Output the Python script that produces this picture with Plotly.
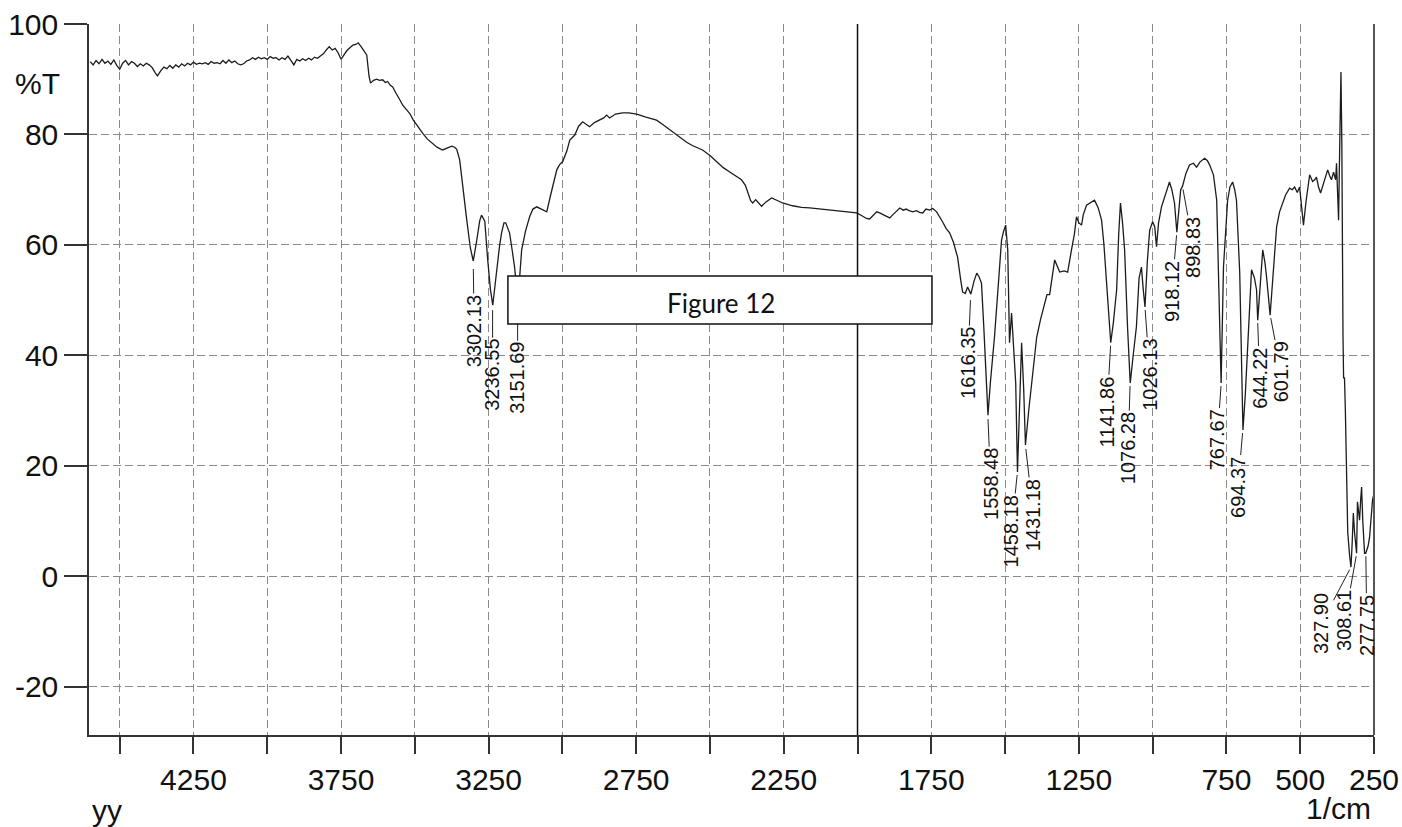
import plotly.graph_objects as go

# ---------------- data ----------------
wavenumber = [
    4600, 4590, 4580, 4570, 4560, 4550, 4540, 4530, 4520, 4510, 4500, 4490, 4480, 4470, 4460,
    4450, 4440, 4430, 4420, 4410, 4400, 4390, 4380, 4372, 4360, 4350, 4340, 4330, 4320, 4310,
    4300, 4290, 4280, 4270, 4260, 4250, 4240, 4230, 4220, 4210, 4200, 4190, 4180, 4170, 4160,
    4150, 4140, 4130, 4120, 4110, 4100, 4090, 4080, 4070, 4060, 4050, 4040, 4030, 4020, 4010,
    4000, 3990, 3980, 3970, 3960, 3950, 3940, 3930, 3920, 3910, 3900, 3890, 3880, 3870, 3860,
    3850, 3840, 3830, 3820, 3810, 3800, 3790, 3780, 3770, 3760, 3750, 3740, 3730, 3720, 3710,
    3700, 3692, 3682, 3672, 3663, 3655,
    3650, 3640, 3629, 3620, 3609, 3600, 3592, 3583, 3575, 3565, 3558, 3550, 3541, 3528, 3517,
    3505, 3494, 3484, 3473, 3458, 3440, 3425, 3406, 3390, 3375, 3365, 3358, 3348, 3338, 3324,
    3312, 3302, 3290, 3280, 3274, 3263, 3253, 3244, 3236, 3228, 3223, 3213, 3206, 3198, 3192,
    3185, 3179, 3170, 3162, 3152, 3145, 3138, 3125, 3111, 3100, 3087, 3070, 3053, 3040, 3030,
    3019, 3010, 2999, 2985, 2975, 2958, 2945, 2931, 2920, 2908, 2890, 2874, 2860, 2850, 2840,
    2820, 2796, 2775, 2748, 2720, 2700, 2681, 2660, 2640, 2626, 2600, 2579, 2560, 2540, 2525,
    2500, 2477, 2455, 2433, 2410, 2393, 2380, 2372, 2362, 2355, 2345, 2335, 2325, 2310, 2291,
    2270, 2254, 2220, 2190, 2162, 2100, 2050, 2003, 1985, 1970, 1959, 1945, 1935, 1925, 1910,
    1900, 1891, 1880, 1870, 1857, 1845, 1835, 1825, 1813, 1800, 1790, 1779, 1768, 1756, 1745,
    1732, 1720, 1712, 1700, 1688, 1675, 1661, 1650, 1644, 1635, 1627, 1620, 1616, 1605, 1596,
    1588, 1580, 1572, 1565, 1558, 1550, 1536, 1524, 1512, 1505, 1498, 1491, 1485, 1478, 1470,
    1464, 1458, 1451, 1444, 1437, 1431, 1420, 1410, 1400, 1393, 1380, 1366, 1358, 1349, 1340,
    1332, 1322, 1315, 1300, 1288, 1275, 1265, 1258, 1250, 1241, 1235, 1224, 1210, 1197, 1185,
    1173, 1165, 1156, 1148, 1142, 1133, 1122, 1115, 1109, 1102, 1095, 1085, 1076, 1065, 1055,
    1046, 1038, 1032, 1026, 1018, 1010, 1000, 993, 987, 980, 970, 955, 943, 935, 926,
    918, 912, 905, 899, 887, 875, 862, 851, 840, 824, 815, 807, 794, 783, 777,
    768, 760, 746, 738, 729, 722, 716, 705, 699, 694, 686, 678, 665, 655, 648,
    644, 636, 627, 620, 614, 602, 592, 580, 570, 560, 550, 536, 527, 519, 510,
    502, 495, 489, 480, 468, 458, 451, 445, 438, 431, 420, 407, 400, 394, 387,
    380, 377, 372, 370, 368, 365, 362, 359, 357, 355, 353, 350, 347, 343, 339,
    333, 328, 324, 320, 316, 313, 309, 306, 302, 299, 295, 292, 288, 282, 278,
    270, 265, 258, 255, 250,
]

transmittance = [
    93.2, 92.6, 93.4, 92.8, 93.6, 92.9, 93.3, 92.7, 93.5, 92.5, 91.8, 92.9, 93.4, 92.6, 93.2,
    92.9, 92.3, 92.8, 92.4, 92.9, 92.6, 92.1, 91.2, 90.6, 91.6, 92.2, 91.9, 92.5, 92.0, 92.6,
    92.2, 92.8, 92.4, 92.9, 92.6, 93.1, 92.7, 92.9, 92.8, 93.0, 92.7, 93.2, 92.9, 93.0, 92.8,
    93.4, 92.9, 93.5, 93.0, 93.3, 92.8, 92.6, 92.8, 93.3, 93.5, 93.9, 93.6, 94.0, 93.7, 93.9,
    93.6, 94.1, 93.8, 93.9, 93.5, 93.9, 93.6, 94.2, 93.4, 92.6, 93.6, 93.3, 93.7, 93.4, 93.8,
    93.5, 94.0, 93.8, 94.2, 94.6, 95.3, 95.9, 95.3, 95.6, 94.8, 93.6, 94.4, 95.2, 95.7, 96.2,
    96.3, 96.6, 95.9, 95.2, 94.4, 90.5,
    89.3, 89.8, 90.0, 89.8, 89.9, 89.4, 89.6, 88.9, 88.6, 87.6, 86.8, 86.2, 85.3, 84.5, 83.8,
    82.6, 81.7, 80.9, 80.2, 79.2, 78.4, 77.7, 77.2, 77.5, 77.9, 77.7, 77.3, 75.4, 70.6, 64.5,
    59.5, 57.1, 60.9, 64.4, 65.4, 64.3, 57.3, 52.0, 49.1, 53.0, 54.9, 59.8, 62.2, 64.0, 64.0,
    62.8, 62.2, 59.0, 56.0, 50.5, 54.0, 59.1, 62.5, 65.1, 66.5, 66.9, 66.5, 66.0, 69.0, 71.5,
    73.6, 74.5, 75.1, 77.0, 79.0, 79.9, 81.5, 82.3, 81.8, 81.4, 82.2, 82.6, 83.0, 83.5, 83.0,
    83.7, 83.9, 83.9, 83.7, 83.2, 82.9, 82.6, 81.8, 81.0, 80.5, 79.5, 78.6, 78.0, 77.5, 77.2,
    76.2, 75.0, 74.0, 73.2, 72.4, 71.8, 70.8, 69.4, 68.0, 67.6, 68.2, 67.6, 67.0, 67.8, 68.5,
    68.0, 67.6, 67.1, 66.8, 66.7, 66.3, 66.1, 65.8, 65.3, 64.8, 64.7, 65.4, 66.0, 65.8, 65.4,
    65.1, 64.9, 65.5, 66.1, 66.7, 66.3, 66.5, 66.2, 66.0, 66.2, 65.9, 65.8, 66.5, 66.3, 66.6,
    66.0, 65.0, 64.2, 63.0, 62.2, 60.5, 57.8, 53.5, 51.5, 51.2, 52.4, 51.6, 51.1, 53.5, 54.9,
    54.2, 53.1, 45.0, 36.0, 29.2, 35.0, 43.3, 52.0, 60.9, 62.5, 63.6, 59.1, 42.3, 47.7, 40.0,
    35.0, 18.9, 30.0, 42.3, 34.0, 23.8, 30.0, 35.0, 40.0, 43.3, 46.5, 49.5, 51.0, 51.0, 54.0,
    57.3, 56.0, 55.1, 55.3, 55.1, 59.1, 62.0, 65.1, 64.0, 63.6, 65.5, 67.2, 67.6, 68.1, 66.8,
    64.5, 60.0, 53.1, 46.0, 42.3, 46.0, 51.9, 62.0, 67.6, 64.0, 59.1, 45.0, 35.0, 40.5, 45.2,
    54.0, 56.0, 52.0, 48.8, 57.0, 62.7, 64.2, 63.3, 59.7, 64.0, 66.9, 69.5, 71.4, 70.0, 67.6,
    62.3, 65.5, 70.0, 70.6, 73.0, 74.5, 74.8, 74.1, 75.0, 75.7, 75.3, 74.5, 72.7, 68.1, 53.1,
    35.0, 56.0, 68.1, 70.5, 71.4, 70.0, 68.1, 55.0, 41.0, 26.5, 33.0, 41.0, 55.5, 54.0, 51.9,
    46.4, 53.0, 59.1, 57.0, 54.2, 47.3, 55.0, 63.3, 66.0, 67.6, 69.0, 70.3, 70.0, 70.5, 69.5,
    70.5, 67.0, 63.6, 68.0, 72.7, 71.5, 71.8, 72.3, 70.5, 69.4, 71.5, 73.6, 72.5, 71.8, 73.2,
    71.8, 74.8, 66.0, 64.5, 71.8, 79.0, 91.3, 78.5, 52.4, 43.3, 35.9, 36.0, 30.0, 16.0, 8.0,
    4.0, 1.7, 6.0, 11.5, 8.0, 6.0, 4.2, 13.5, 11.0, 10.2, 14.0, 16.2, 10.0, 4.2, 4.2,
    5.5, 7.1, 11.0, 13.8, 15.0,
]

peak_labels = ["3302.13", "3236.55", "3151.69", "1616.35", "1558.48", "1458.18", "1431.18",
               "1141.86", "1076.28", "1026.13", "918.12", "898.83", "767.67", "694.37",
               "644.22", "601.79", "327.90", "308.61", "277.75"]
peak_wn = [3302.13, 3236.55, 3151.69, 1616.35, 1558.48, 1458.18, 1431.18,
           1141.86, 1076.28, 1026.13, 918.12, 898.83, 767.67, 694.37,
           644.22, 601.79, 327.90, 308.61, 277.75]
peak_T = [57.1, 49.1, 50.0, 51.1, 29.2, 18.9, 23.8,
          42.3, 35.0, 48.8, 62.3, 70.6, 35.0, 26.5,
          46.4, 47.3, 1.7, 4.2, 4.2]

x_tick_vals = [4250, 3750, 3250, 2750, 2250, 1750, 1250, 750, 500, 250]
x_tick_text = ["4250", "3750", "3250", "2750", "2250", "1750", "1250", "750", "500", "250"]
x_minor_vals = [4500, 4000, 3500, 3000, 2500, 2000, 1500, 1000]
y_tick_vals = [-20, 0, 20, 40, 60, 80, 100]
y_tick_text = ["-20", "0", "20", "40", "60", "80", "100"]

# ---------------- layout helpers (label placement, px offsets) ----------------
label_offsets = [  # (ax, ay, standoff) in pixels
    (1, 70, 8), (0, 70, 5), (0, 78, 23), (-3, 69, 6), (3, 69, 4), (-6, 59, 3), (8, 70, 4),
    (-4, 69, 3), (-2, 65, 3), (5, 68, 3), (-5, 59, 3), (11, 61, 3), (-4, 57, 3), (-5, 57, 3),
    (2, 58, 3), (11, 57, 3), (-30, 57, 3), (-12, 67, 3), (1, 72, 3),
]

FONT = "Liberation Sans, Arial, Helvetica, sans-serif"
GRID = dict(showgrid=True, gridcolor="#8a8a8a", griddash="8px,4px", gridwidth=1)

fig = go.Figure()
fig.add_trace(go.Scatter(
    x=wavenumber, y=transmittance, mode="lines",
    line=dict(color="#1c1c1c", width=1.3), showlegend=False, hoverinfo="skip",
))

annotations = []
for lab, wn, t, (ax, ay, so) in zip(peak_labels, peak_wn, peak_T, label_offsets):
    annotations.append(dict(
        x=wn, y=t, xref="x", yref="y", text=lab, textangle=-90,
        showarrow=True, arrowhead=0, arrowwidth=1, arrowcolor="#222",
        ax=ax, ay=ay, standoff=so, borderpad=1,
        font=dict(family=FONT, size=20, color="#111"),
    ))

annotations += [
    dict(text="%T", xref="paper", yref="paper", x=-0.021, y=0.916,
         xanchor="right", yanchor="middle", showarrow=False,
         font=dict(family=FONT, size=30, color="#111")),
    dict(text="yy", xref="paper", yref="paper", x=0.001, y=-0.106,
         xanchor="left", yanchor="middle", showarrow=False,
         font=dict(family=FONT, size=30, color="#111")),
    dict(text="1/cm", xref="paper", yref="paper", x=0.999, y=-0.103,
         xanchor="right", yanchor="middle", showarrow=False,
         font=dict(family=FONT, size=30, color="#111")),
    dict(text="Figure 12", xref="paper", yref="paper", x=0.4917, y=0.607,
         xanchor="center", yanchor="middle", showarrow=False,
         font=dict(family="Lato, Open Sans, sans-serif", size=26, color="#111")),
]

shapes = [
    # solid vertical line at 2000 1/cm
    dict(type="line", xref="x", yref="paper", x0=2000, x1=2000, y0=0, y1=1,
         line=dict(color="#111", width=1.5), layer="above"),
    # right frame edge
    dict(type="line", xref="paper", yref="paper", x0=1, x1=1, y0=0, y1=1,
         line=dict(color="#555", width=2), layer="above"),
    # "Figure 12" box
    dict(type="rect", xref="paper", yref="paper", x0=0.326, x1=0.656, y0=0.578, y1=0.6456,
         fillcolor="white", line=dict(color="#111", width=1.5), layer="above"),
]

fig.update_layout(
    width=1402, height=827, autosize=False,
    margin=dict(l=89, r=28, t=24, b=92, pad=0, autoexpand=False),
    paper_bgcolor="white", plot_bgcolor="white",
    font=dict(family=FONT, size=30, color="#111"),
    annotations=annotations, shapes=shapes,
    hovermode=False,
)

fig.update_xaxes(
    range=[4604, 250], tickmode="array", tickvals=x_tick_vals, ticktext=x_tick_text,
    ticks="outside", ticklen=17, tickwidth=1.5, tickcolor="#333",
    showline=True, linecolor="#333", linewidth=1.5, zeroline=False, automargin=False,
    tickfont=dict(family=FONT, size=30, color="#111"),
    minor=dict(tickmode="array", tickvals=x_minor_vals, ticks="outside", ticklen=17,
               tickwidth=1.5, tickcolor="#333", showgrid=True, gridcolor="#8a8a8a",
               griddash="8px,4px", gridwidth=1),
    **GRID,
)
fig.update_yaxes(
    range=[-28.7, 100], tickmode="array", tickvals=y_tick_vals, ticktext=y_tick_text,
    ticks="outside", ticklen=23, tickwidth=1.5, tickcolor="#333",
    showline=True, linecolor="#333", linewidth=1.5, zeroline=False, automargin=False,
    tickfont=dict(family=FONT, size=30, color="#111"),
    **GRID,
)

fig.write_html("out.html")
